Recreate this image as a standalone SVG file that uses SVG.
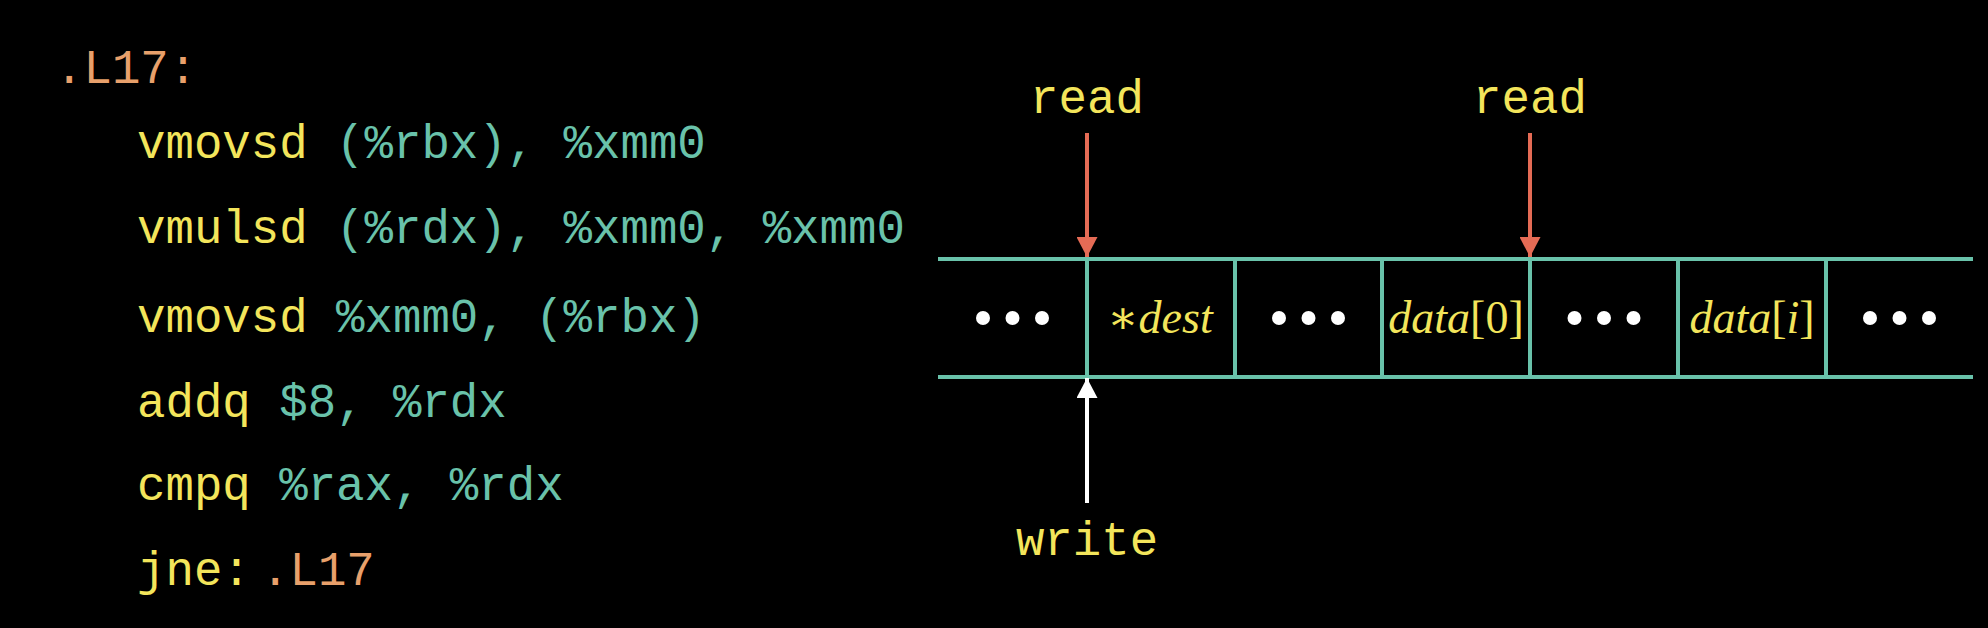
<svg xmlns="http://www.w3.org/2000/svg" width="1988" height="628" viewBox="0 0 1988 628">
  <style>
    .code { font-family: "Liberation Mono", "DejaVu Sans Mono", monospace; font-size: 47.4px; }
    .mn { fill: #f3e55b; }
    .op { fill: #69c2aa; }
    .lb { fill: #e8a06b; }
    .lab { font-family: "Liberation Mono", "DejaVu Sans Mono", monospace; font-size: 47.4px; fill: #f3e55b; text-anchor: middle; }
    .math { font-family: "Liberation Serif", "DejaVu Serif", serif; font-size: 46px; fill: #f3e55b; text-anchor: middle; }
    .it { font-style: italic; }
    .cell { stroke: #69c2aa; stroke-width: 4; fill: none; }
    .dot { fill: #ffffff; }
    .rd { stroke: #e56b55; stroke-width: 4; fill: none; }
    .wr { stroke: #ffffff; stroke-width: 4; fill: none; }
  </style>
  <defs>
    <marker id="headRed" viewBox="0 0 20 21" refX="20" refY="10.5" markerWidth="20" markerHeight="21" markerUnits="userSpaceOnUse" orient="auto">
      <path d="M0,0 L20,10.5 L0,21 Z" fill="#e56b55"/>
    </marker>
    <marker id="headWhite" viewBox="0 0 20 21" refX="20" refY="10.5" markerWidth="20" markerHeight="21" markerUnits="userSpaceOnUse" orient="auto">
      <path d="M0,0 L20,10.5 L0,21 Z" fill="#ffffff"/>
    </marker>
  </defs>
  <rect x="0" y="0" width="1988" height="628" fill="#000000"/>

  <g id="code">
    <text class="code lb" x="55" y="83">.L17:</text>
    <text class="code" x="137" y="158" xml:space="preserve"><tspan class="mn">vmovsd</tspan><tspan class="op"> (%rbx), %xmm0</tspan></text>
    <text class="code" x="137" y="243" xml:space="preserve"><tspan class="mn">vmulsd</tspan><tspan class="op"> (%rdx), %xmm0, %xmm0</tspan></text>
    <text class="code" x="137" y="332" xml:space="preserve"><tspan class="mn">vmovsd</tspan><tspan class="op"> %xmm0, (%rbx)</tspan></text>
    <text class="code" x="137" y="417" xml:space="preserve"><tspan class="mn">addq</tspan><tspan class="op"> $8, %rdx</tspan></text>
    <text class="code" x="137" y="500" xml:space="preserve"><tspan class="mn">cmpq</tspan><tspan class="op"> %rax, %rdx</tspan></text>
    <text class="code" x="137" y="585"><tspan class="mn">jne:</tspan><tspan class="lb" x="261">.L17</tspan></text>
  </g>

  <g id="memory">
    <line class="cell" x1="938" y1="259" x2="1973" y2="259"/>
    <line class="cell" x1="938" y1="377" x2="1973" y2="377"/>
    <line class="cell" x1="1087" y1="259" x2="1087" y2="377"/>
    <line class="cell" x1="1235" y1="259" x2="1235" y2="377"/>
    <line class="cell" x1="1382" y1="259" x2="1382" y2="377"/>
    <line class="cell" x1="1530" y1="259" x2="1530" y2="377"/>
    <line class="cell" x1="1678" y1="259" x2="1678" y2="377"/>
    <line class="cell" x1="1826" y1="259" x2="1826" y2="377"/>
  </g>

  <g id="cell-1">
    <circle class="dot" cx="983" cy="318" r="7"/>
    <circle class="dot" cx="1012.5" cy="318" r="7"/>
    <circle class="dot" cx="1042" cy="318" r="7"/>
  </g>
  <g id="cell-dest">
    <text class="math" x="1160" y="333"><tspan>∗</tspan><tspan class="it">dest</tspan></text>
  </g>
  <g id="cell-3">
    <circle class="dot" cx="1279" cy="318" r="7"/>
    <circle class="dot" cx="1308.5" cy="318" r="7"/>
    <circle class="dot" cx="1338" cy="318" r="7"/>
  </g>
  <g id="cell-data0">
    <text class="math" x="1456" y="333"><tspan class="it">data</tspan><tspan>[0]</tspan></text>
  </g>
  <g id="cell-5">
    <circle class="dot" cx="1574.5" cy="318" r="7"/>
    <circle class="dot" cx="1604" cy="318" r="7"/>
    <circle class="dot" cx="1633.5" cy="318" r="7"/>
  </g>
  <g id="cell-datai">
    <text class="math" x="1752" y="333"><tspan class="it">data</tspan><tspan>[</tspan><tspan class="it">i</tspan><tspan>]</tspan></text>
  </g>
  <g id="cell-7">
    <circle class="dot" cx="1870" cy="318" r="7"/>
    <circle class="dot" cx="1899.5" cy="318" r="7"/>
    <circle class="dot" cx="1929" cy="318" r="7"/>
  </g>

  <g id="labels">
    <text class="lab" x="1087" y="113">read</text>
    <text class="lab" x="1530" y="113">read</text>
    <text class="lab" x="1087" y="555">write</text>
  </g>

  <g id="connectors">
    <line class="rd" x1="1087" y1="133" x2="1087" y2="257" marker-end="url(#headRed)"/>
    <line class="rd" x1="1530" y1="133" x2="1530" y2="257" marker-end="url(#headRed)"/>
    <line class="wr" x1="1087" y1="503" x2="1087" y2="378" marker-end="url(#headWhite)"/>
  </g>
</svg>
